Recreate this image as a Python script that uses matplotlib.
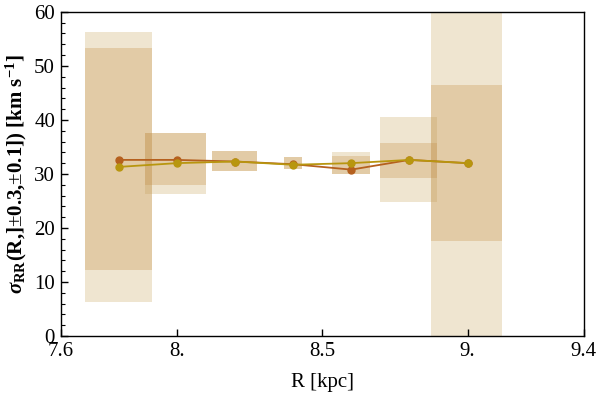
import matplotlib
matplotlib.use("Agg")
import matplotlib.pyplot as plt
from matplotlib.ticker import FixedLocator, MultipleLocator

plt.rcParams["font.family"] = ["Liberation Serif", "DejaVu Serif"]
plt.rcParams["mathtext.fontset"] = "custom"
plt.rcParams["mathtext.rm"] = "Liberation Serif"
plt.rcParams["mathtext.it"] = "Liberation Serif:italic"
plt.rcParams["mathtext.bf"] = "Liberation Serif:bold"
plt.rcParams["mathtext.sf"] = "Liberation Serif:italic:bold"

# bin centres and box extents (kpc)
R = [7.8, 8.0, 8.2, 8.4, 8.6, 8.8, 9.0]
box_x_lo = [7.683, 7.892, 8.120, 8.368, 8.534, 8.699, 8.873]
box_x_hi = [7.915, 8.100, 8.274, 8.429, 8.665, 8.895, 9.119]

# wider (outer) uncertainty band
outer_lo = [6.35, 26.35, 30.6, 30.9, 29.9, 24.8, -5.0]
outer_hi = [56.2, 37.5, 34.2, 33.1, 34.0, 40.5, 70.0]
# narrower (inner) uncertainty band
inner_lo = [12.3, 28.0, 30.6, 30.9, 29.9, 29.3, 17.5]
inner_hi = [53.3, 37.5, 34.2, 33.1, 33.4, 35.7, 46.5]

sigma_orange = [32.6, 32.6, 32.3, 31.8, 30.8, 32.6, 32.0]
sigma_yellow = [31.3, 32.0, 32.3, 31.7, 32.0, 32.6, 32.0]

xtick_vals = [7.6, 8.0, 8.5, 9.0, 9.4]
xtick_labels = ["7.6", "8.", "8.5", "9.", "9.4"]
ytick_vals = [0, 10, 20, 30, 40, 50, 60]

fig = plt.figure(figsize=(6.0, 3.96), dpi=100)
ax = fig.add_axes([0.101, 0.1515, 0.872, 0.8185])

widths = [h - l for l, h in zip(box_x_lo, box_x_hi)]
ax.bar(box_x_lo, [h - l for l, h in zip(outer_lo, outer_hi)], width=widths,
       bottom=outer_lo, align="edge", color=(202/255, 172/255, 102/255),
       alpha=0.3, linewidth=0, zorder=1)
ax.bar(box_x_lo, [h - l for l, h in zip(inner_lo, inner_hi)], width=widths,
       bottom=inner_lo, align="edge", color=(196/255, 143/255, 72/255),
       alpha=0.3, linewidth=0, zorder=2)

ax.plot(R, sigma_orange, color="#B5601E", marker="o", markersize=5,
        linewidth=1.3, zorder=3)
ax.plot(R, sigma_yellow, color="#B8960F", marker="o", markersize=5,
        linewidth=1.3, zorder=4)

ax.set_xlim(7.6, 9.4)
ax.set_ylim(0, 60)
ax.xaxis.set_major_locator(FixedLocator(xtick_vals))
ax.set_xticklabels(xtick_labels)
ax.yaxis.set_major_locator(FixedLocator(ytick_vals))
ax.yaxis.set_minor_locator(MultipleLocator(2))
ax.tick_params(axis="both", which="both", direction="in", top=False,
               right=False, labelsize=15, pad=4)
ax.tick_params(axis="both", which="major", length=5, width=1)
ax.tick_params(axis="y", which="minor", length=3, width=0.8)
for s in ax.spines.values():
    s.set_linewidth(1.0)

ax.set_xlabel("R [kpc]", fontsize=15, labelpad=9)
ax.set_ylabel(r"$\mathsf{\sigma}_{\mathbf{RR}}$(R,]$\pm$0.3,$\pm$0.1]) [km s$^{\mathbf{-1}}$]",
              fontsize=15, fontweight="bold", labelpad=4)

fig.savefig("out.png", dpi=100)
